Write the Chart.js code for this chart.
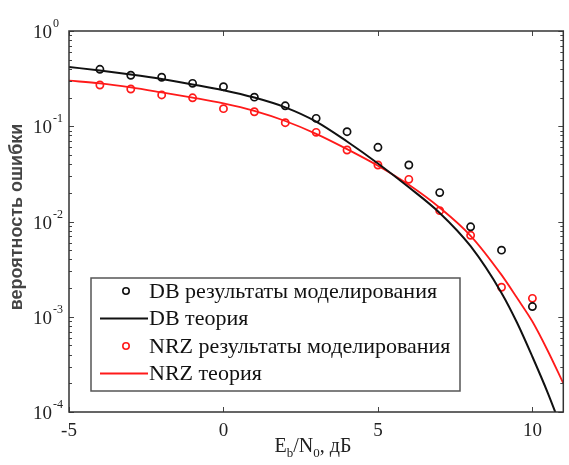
<!DOCTYPE html>
<html>
<head>
<meta charset="utf-8">
<script src="https://cdn.jsdelivr.net/npm/chart.js@4.4.1/dist/chart.umd.min.js"></script>
<style>
  html, body { margin: 0; padding: 0; background: #ffffff; }
  #wrap { width: 569px; height: 465px; position: relative; }
</style>
</head>
<body>
<div id="wrap"><canvas id="c" width="569" height="465"></canvas></div>
<script>
// Eb/N0 values (dB) of the simulated points
const simEbN0 = [-4, -3, -2, -1, 0, 1, 2, 3, 4, 5, 6, 7, 8, 9, 10];
// duobinary (DB) simulated bit error rate
const dbSim = [0.396, 0.343, 0.327, 0.282, 0.260, 0.202, 0.164, 0.121, 0.0877, 0.0601, 0.0392, 0.0201, 0.0088, 0.0050, 0.00128];
// NRZ simulated bit error rate
const nrzSim = [0.271, 0.246, 0.213, 0.199, 0.153, 0.142, 0.109, 0.0863, 0.0563, 0.0392, 0.0277, 0.0130, 0.00716, 0.00204, 0.00156];

// Eb/N0 values (dB) of the theory curves
const theoryEbN0 = [-5, -4, -3, -2, -1, 0, 1, 2, 3, 4, 5, 6, 7, 8, 9, 9.5, 10, 10.5, 11];
// DB theory
const dbTheory = [0.419, 0.385, 0.349, 0.313, 0.275, 0.239, 0.200, 0.158, 0.112, 0.0692, 0.0407, 0.0229, 0.0123, 0.0055, 0.00178, 0.00087, 0.00038, 0.000158, 0.00006];
// NRZ theory
const nrzTheory = [0.301, 0.282, 0.256, 0.227, 0.200, 0.174, 0.145, 0.1135, 0.0832, 0.0575, 0.0385, 0.0243, 0.01396, 0.00708, 0.00275, 0.00158, 0.00089, 0.000437, 0.0002];

// axis ticks
const xTicks = [-5, 0, 5, 10];
const yDecades = [-4, -3, -2, -1, 0];

// legend entries
const legendLabels = [
  'DB результаты моделирования',
  'DB теория',
  'NRZ результаты моделирования',
  'NRZ теория'
];
const yTitle = 'вероятность ошибки';

const pts = (xs, ys) => xs.map((x, i) => ({ x: x, y: ys[i] }));

const SERIF = '"Liberation Serif", "Times New Roman", serif';
const SANS = '"Liberation Sans", Arial, sans-serif';
const RED = '#ff1a1a';

const axesPlugin = {
  id: 'matlabAxes',
  afterDatasetsDraw(chart) {
    const ctx = chart.ctx;
    const a = chart.chartArea;
    const xs = chart.scales.x;
    const ys = chart.scales.y;
    ctx.save();

    // tick marks pointing inward on all four sides
    ctx.strokeStyle = '#444';
    ctx.lineWidth = 1;
    ctx.beginPath();
    xTicks.forEach(v => {
      const px = Math.round(xs.getPixelForValue(v)) + 0.5;
      ctx.moveTo(px, a.bottom); ctx.lineTo(px, a.bottom - 5);
      ctx.moveTo(px, a.top); ctx.lineTo(px, a.top + 5);
    });
    yDecades.forEach(k => {
      for (let m = 1; m <= 9; m++) {
        if (k === 0 && m > 1) break;
        const py = Math.round(ys.getPixelForValue(m * Math.pow(10, k))) + 0.5;
        const len = m === 1 ? 5 : 3;
        ctx.moveTo(a.left, py); ctx.lineTo(a.left + len, py);
        ctx.moveTo(a.right, py); ctx.lineTo(a.right - len, py);
      }
    });
    ctx.stroke();

    // frame
    ctx.strokeStyle = '#333';
    ctx.lineWidth = 1.5;
    ctx.strokeRect(a.left, a.top, a.right - a.left, a.bottom - a.top);

    // x tick labels
    ctx.fillStyle = '#222';
    ctx.font = '19px ' + SERIF;
    ctx.textAlign = 'center';
    ctx.textBaseline = 'alphabetic';
    xTicks.forEach(v => {
      ctx.fillText(String(v), xs.getPixelForValue(v), 436);
    });

    // y tick labels as powers of ten
    yDecades.forEach(k => {
      const py = ys.getPixelForValue(Math.pow(10, k));
      ctx.textAlign = 'left';
      ctx.font = '19px ' + SERIF;
      ctx.fillText('10', 33, py + 7);
      const w = ctx.measureText('10').width;
      ctx.font = '12px ' + SERIF;
      ctx.fillText(k === 0 ? '0' : '-' + (-k), 33 + w + 1, py - 4);
    });

    // x axis title: Eb/N0, дБ
    const parts = [
      ['E', 20, 0], ['b', 13, 5], ['/N', 20, 0], ['0', 13, 5], [', дБ', 20, 0]
    ];
    let total = 0;
    parts.forEach(p => { ctx.font = p[1] + 'px ' + SERIF; total += ctx.measureText(p[0]).width; });
    let cx = 313 - total / 2;
    ctx.textAlign = 'left';
    parts.forEach(p => {
      ctx.font = p[1] + 'px ' + SERIF;
      ctx.fillText(p[0], cx, 452 + p[2]);
      cx += ctx.measureText(p[0]).width;
    });

    // y axis title
    ctx.save();
    ctx.translate(17, 217);
    ctx.rotate(-Math.PI / 2);
    ctx.textAlign = 'center';
    ctx.textBaseline = 'middle';
    ctx.font = 'bold 18px ' + SANS;
    ctx.fillStyle = '#444';
    ctx.fillText(yTitle, 0, 0);
    ctx.restore();

    // legend
    const L = { left: 91, top: 278, right: 460, bottom: 391 };
    ctx.fillStyle = '#ffffff';
    ctx.fillRect(L.left, L.top, L.right - L.left, L.bottom - L.top);
    ctx.strokeStyle = '#555';
    ctx.lineWidth = 1.5;
    ctx.strokeRect(L.left, L.top, L.right - L.left, L.bottom - L.top);
    const rows = [291, 318.5, 346, 373.5];
    const kinds = ['circle', 'line', 'circle', 'line'];
    const colors = ['#111', '#111', RED, RED];
    rows.forEach((ry, i) => {
      if (kinds[i] === 'circle') {
        ctx.beginPath();
        ctx.arc(126, ry, 3.2, 0, Math.PI * 2);
        ctx.strokeStyle = colors[i];
        ctx.lineWidth = 1.6;
        ctx.stroke();
      } else {
        ctx.beginPath();
        ctx.moveTo(100, ry); ctx.lineTo(148, ry);
        ctx.strokeStyle = colors[i];
        ctx.lineWidth = 2;
        ctx.stroke();
      }
      ctx.fillStyle = '#111';
      ctx.font = '22px ' + SERIF;
      ctx.textAlign = 'left';
      ctx.textBaseline = 'middle';
      ctx.fillText(legendLabels[i], 149, ry + 1);
    });

    ctx.restore();
  }
};

new Chart(document.getElementById('c'), {
  type: 'line',
  data: {
    datasets: [
      {
        label: legendLabels[0],
        data: pts(simEbN0, dbSim),
        showLine: false,
        pointStyle: 'circle',
        pointRadius: 3.6,
        pointBorderWidth: 1.7,
        pointBorderColor: '#111',
        pointBackgroundColor: 'rgba(0,0,0,0)',
        clip: 4
      },
      {
        label: legendLabels[1],
        data: pts(theoryEbN0, dbTheory),
        borderColor: '#111',
        borderWidth: 2,
        pointRadius: 0,
        cubicInterpolationMode: 'monotone',
        fill: false,
        clip: 0
      },
      {
        label: legendLabels[2],
        data: pts(simEbN0, nrzSim),
        showLine: false,
        pointStyle: 'circle',
        pointRadius: 3.6,
        pointBorderWidth: 1.7,
        pointBorderColor: RED,
        pointBackgroundColor: 'rgba(0,0,0,0)',
        clip: 4
      },
      {
        label: legendLabels[3],
        data: pts(theoryEbN0, nrzTheory),
        borderColor: RED,
        borderWidth: 1.8,
        pointRadius: 0,
        cubicInterpolationMode: 'monotone',
        fill: false,
        clip: 0
      }
    ]
  },
  options: {
    responsive: false,
    animation: false,
    devicePixelRatio: 1,
    layout: { padding: { left: 69, right: 2, top: 31, bottom: 53 } },
    plugins: { legend: { display: false }, tooltip: { enabled: false } },
    scales: {
      x: { type: 'linear', min: -5, max: 11, display: false },
      y: { type: 'logarithmic', min: 1e-4, max: 1, display: false }
    }
  },
  plugins: [axesPlugin]
});
</script>
</body>
</html>
